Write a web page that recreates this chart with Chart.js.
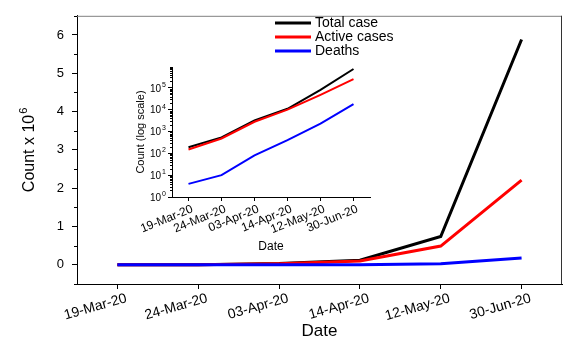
<!DOCTYPE html>
<html>
<head>
<meta charset="utf-8">
<script src="https://cdn.jsdelivr.net/npm/chart.js@4/dist/chart.umd.min.js"></script>
<style>
    body { margin: 0; background: #fff; }
    #wrap { position: relative; width: 564px; height: 340px; background: #fff; }
    #main-chart { position: absolute; left: 0; top: 0; }
    #inset-chart { position: absolute; left: 120px; top: 58px; }
</style>
</head>
<body>
<div id="wrap">
    <canvas id="main-chart" width="564" height="340"></canvas>
    <canvas id="inset-chart" width="260" height="195"></canvas>
</div>
<script>
const dates = ['19-Mar-20', '24-Mar-20', '03-Apr-20', '14-Apr-20', '12-May-20', '30-Jun-20'];
const seriesNames = ['Total case', 'Active cases', 'Deaths'];
const seriesColors = ['#000000', '#ff0000', '#0000ff'];

// main chart, counts in millions
const totalMain = [0.0002, 0.005, 0.035, 0.12, 0.74, 5.88];
const activeMain = [0.0002, 0.004, 0.03, 0.1, 0.49, 2.21];
const deathsMain = [0.0, 0.0005, 0.002, 0.005, 0.03, 0.18];
const mainYTicks = [0, 1, 2, 3, 4, 5, 6];
const mainYMinor = [-0.5, 0.5, 1.5, 2.5, 3.5, 4.5, 5.5, 6.5];

// inset, raw counts on log axis
const totalInset = [190, 540, 3200, 11000, 80000, 730000];
const activeInset = [150, 480, 2800, 10000, 48000, 250000];
const deathsInset = [4, 10, 80, 400, 2300, 18000];
const insetYTicks = [1, 10, 100, 1000, 10000, 100000];

const FONT = '"Liberation Sans", Arial, sans-serif';

function logMinors(max) {
    const out = [];
    for (let p = 1; p <= max; p *= 10) {
        for (let k = 2; k <= 9; k++) {
            if (p * k <= max) out.push(p * k);
        }
    }
    return out;
}

// draw "base" with a raised exponent, right or centre aligned
function drawPower(ctx, base, exp, x, y, size, align) {
    ctx.font = size + 'px ' + FONT;
    const wBase = ctx.measureText(base).width;
    ctx.font = Math.round(size * 0.7) + 'px ' + FONT;
    const wExp = ctx.measureText(exp).width;
    const total = wBase + wExp + 1;
    let x0 = x - total;
    if (align === 'center') x0 = x - total / 2;
    ctx.textAlign = 'left';
    ctx.textBaseline = 'middle';
    ctx.font = size + 'px ' + FONT;
    ctx.fillText(base, x0, y);
    ctx.font = Math.round(size * 0.7) + 'px ' + FONT;
    ctx.fillText(exp, x0 + wBase + 1, y - size * 0.4);
}

// small ticks drawn from the scale, like origin's minor ticks
const minorTicks = {
    id: 'minorTicks',
    afterDraw(chart, args, opts) {
        if (!opts.values) return;
        const scale = chart.scales.y;
        const ctx = chart.ctx;
        ctx.save();
        ctx.strokeStyle = '#000';
        ctx.lineWidth = 1;
        opts.values.forEach(v => {
            const y = Math.round(scale.getPixelForValue(v)) + 0.5;
            ctx.beginPath();
            ctx.moveTo(scale.right - opts.length, y);
            ctx.lineTo(scale.right, y);
            ctx.stroke();
        });
        ctx.restore();
    }
};

const frameAndLegend = {
    id: 'frameAndLegend',
    afterDraw(chart, args, opts) {
        if (!opts.enabled) return;
        const ctx = chart.ctx;
        const area = chart.chartArea;
        ctx.save();
        ctx.lineWidth = 1;
        ctx.strokeStyle = '#808080';
        ctx.beginPath();
        ctx.moveTo(area.left, area.top + 0.5);
        ctx.lineTo(area.right, area.top + 0.5);
        ctx.stroke();
        ctx.strokeStyle = '#333';
        ctx.beginPath();
        ctx.moveTo(area.right - 0.5, area.top);
        ctx.lineTo(area.right - 0.5, area.bottom);
        ctx.stroke();

        ctx.font = '14px ' + FONT;
        ctx.textBaseline = 'middle';
        ctx.fillStyle = '#000';
        seriesNames.forEach((name, i) => {
            const y = 23 + i * 14;
            ctx.strokeStyle = seriesColors[i];
            ctx.lineWidth = 3;
            ctx.beginPath();
            ctx.moveTo(275, y);
            ctx.lineTo(311, y);
            ctx.stroke();
            ctx.font = '14px ' + FONT;
            ctx.fillText(name, 315, y);
        });

        // y title with superscript
        ctx.translate(30, (area.top + area.bottom) / 2);
        ctx.rotate(-Math.PI / 2);
        drawPower(ctx, opts.yTitle, opts.yExp, 0, 0, 16, 'center');
        ctx.restore();
    }
};

// power-of-ten labels for the log axis of the inset
const powerLabels = {
    id: 'powerLabels',
    afterDraw(chart, args, opts) {
        if (!opts.enabled) return;
        const scale = chart.scales.y;
        const ctx = chart.ctx;
        ctx.save();
        ctx.fillStyle = '#000';
        insetYTicks.forEach(v => {
            const y = scale.getPixelForValue(v);
            drawPower(ctx, '10', String(Math.round(Math.log10(v))), scale.right - 6, y + 1, 10, 'right');
        });
        ctx.restore();
    }
};

function makeDatasets(values, width) {
    return values.map((data, i) => ({
        label: seriesNames[i],
        data: data,
        borderColor: seriesColors[i],
        backgroundColor: seriesColors[i],
        borderWidth: width,
        pointRadius: 0,
        tension: 0,
        fill: false,
        order: 3 - i
    }));
}

new Chart(document.getElementById('main-chart').getContext('2d'), {
    type: 'line',
    data: {
        labels: dates,
        datasets: makeDatasets([totalMain, activeMain, deathsMain], 3)
    },
    plugins: [minorTicks, frameAndLegend],
    options: {
        responsive: false,
        animation: false,
        layout: { padding: { top: 11, right: 2, left: 0, bottom: 0 } },
        plugins: {
            legend: { display: false },
            tooltip: { enabled: false },
            minorTicks: { values: mainYMinor, length: 3 },
            frameAndLegend: { enabled: true, yTitle: 'Count x 10', yExp: '6' }
        },
        scales: {
            x: {
                offset: true,
                afterFit: scale => { scale.height = 56; },
                grid: { drawOnChartArea: false, tickLength: 5, tickColor: '#000', offset: false },
                border: { color: '#000', width: 1 },
                ticks: {
                    color: '#000',
                    font: { family: FONT, size: 14 },
                    minRotation: 16,
                    maxRotation: 16,
                    padding: 1,
                    labelOffset: 9,
                    autoSkip: false
                },
                title: {
                    display: true,
                    text: 'Date',
                    color: '#000',
                    font: { family: FONT, size: 17, lineHeight: 1 },
                    padding: { top: 0, bottom: 0 }
                }
            },
            y: {
                min: -0.5,
                max: 6.5,
                afterFit: scale => { scale.width = 77; },
                afterBuildTicks: scale => { scale.ticks = mainYTicks.map(v => ({ value: v })); },
                grid: { drawOnChartArea: false, tickLength: 5, tickColor: '#000' },
                border: { color: '#000', width: 1 },
                ticks: {
                    color: '#000',
                    font: { family: FONT, size: 13 },
                    padding: 8
                }
            }
        }
    }
});

new Chart(document.getElementById('inset-chart').getContext('2d'), {
    type: 'line',
    data: {
        labels: dates,
        datasets: makeDatasets([totalInset, activeInset, deathsInset], 2)
    },
    plugins: [minorTicks, powerLabels],
    options: {
        responsive: false,
        animation: false,
        layout: { padding: { top: 8, right: 10, left: 0, bottom: 0 } },
        plugins: {
            legend: { display: false },
            tooltip: { enabled: false },
            minorTicks: { values: logMinors(900000), length: 2 },
            powerLabels: { enabled: true }
        },
        scales: {
            x: {
                offset: true,
                afterFit: scale => { scale.height = 56; },
                grid: { drawOnChartArea: false, tickLength: 4, tickColor: '#000', offset: false },
                border: { color: '#000', width: 1 },
                ticks: {
                    color: '#000',
                    font: { family: FONT, size: 12 },
                    minRotation: 22,
                    maxRotation: 22,
                    padding: 1,
                    labelOffset: 4,
                    autoSkip: false
                },
                title: {
                    display: true,
                    text: 'Date',
                    color: '#000',
                    font: { family: FONT, size: 12, lineHeight: 1 },
                    padding: { top: 11, bottom: 0 }
                }
            },
            y: {
                type: 'logarithmic',
                min: 1,
                max: 900000,
                afterFit: scale => { scale.width = 52; },
                afterBuildTicks: scale => { scale.ticks = insetYTicks.map(v => ({ value: v })); },
                grid: { drawOnChartArea: false, tickLength: 4, tickColor: '#000' },
                border: { color: '#000', width: 1 },
                ticks: {
                    color: '#000',
                    font: { family: FONT, size: 10 },
                    callback: () => ''
                },
                title: {
                    display: true,
                    text: 'Count (log scale)',
                    color: '#000',
                    font: { family: FONT, size: 11, lineHeight: 1 },
                    padding: { top: 15, bottom: 0 }
                }
            }
        }
    }
});
</script>
</body>
</html>
